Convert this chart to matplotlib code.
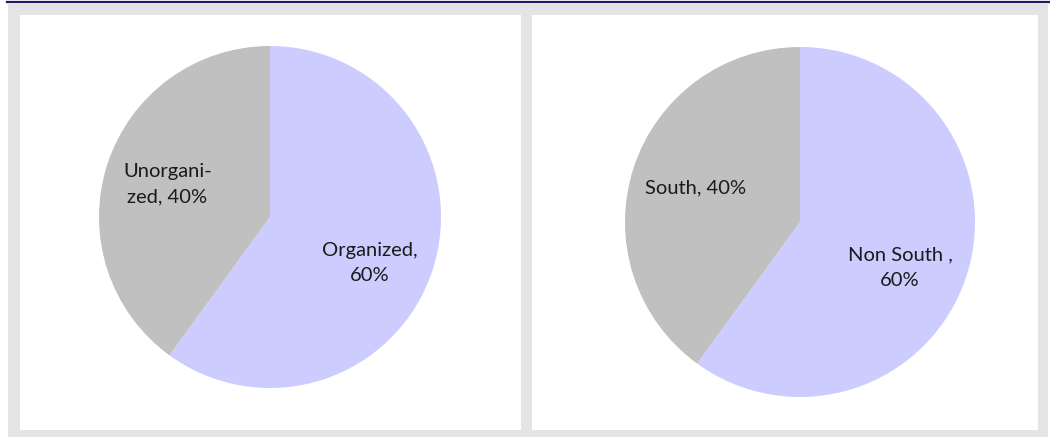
import matplotlib
matplotlib.use("Agg")
import matplotlib.pyplot as plt
from matplotlib.patches import Rectangle
from matplotlib.lines import Line2D

# Data
left_labels = ["Organized", "Unorgani-\nzed"]
left_values = [60, 40]
right_labels = ["Non South ", "South"]
right_values = [60, 40]
colors = ["#ccccff", "#c0c0c0"]

W, H = 1050, 437
fig = plt.figure(figsize=(W / 100, H / 100), dpi=100)
fig.patch.set_facecolor("white")

def fx(px):
    return px / W

def fy(py):
    return 1 - py / H

# gray frame
fig.patches.append(Rectangle((fx(8), 0), fx(1048) - fx(8), fy(4), transform=fig.transFigure,
                             facecolor="#e4e4e4", edgecolor="none", zorder=-10))
# top dark line
fig.lines.append(Line2D([fx(7), 1], [fy(1.5), fy(1.5)], transform=fig.transFigure,
                        color="#1f1b5e", linewidth=1.6, zorder=5))

def panel(x0, x1, y0, y1, labels, values, cx, cy, r, fmt, big_offset):
    ax = fig.add_axes([fx(x0), fy(y1), fx(x1) - fx(x0), fy(y0) - fy(y1)])
    ax.set_zorder(1)
    w = x1 - x0
    h = y1 - y0
    texts = [fmt(l, v) for l, v in zip(labels, values)]
    ccx, ccy = cx, h - cy
    wedges, tx = ax.pie(values, labels=texts, colors=colors, startangle=90, counterclock=False,
                        center=(ccx, ccy), radius=r, labeldistance=0.63, frame=True,
                        wedgeprops=dict(linewidth=0),
                        textprops=dict(fontsize=14.5, family="Lato", color="#1a1a1a",
                                       ha="center", va="center", multialignment="center",
                                       linespacing=1.6))
    # reposition the label of the larger slice (as placed in the original)
    tx[0].set_position((ccx + big_offset[0] * r, ccy + big_offset[1] * r))
    ax.set_aspect("auto")
    ax.set_xlim(0, w)
    ax.set_ylim(0, h)
    ax.set_xticks([])
    ax.set_yticks([])
    for s in ax.spines.values():
        s.set_visible(False)
    ax.set_facecolor("white")
    return ax

panel(20, 521, 15, 430, left_labels, left_values, 250, 202, 171,
      lambda l, v: f"{l}, {v}%" if "\n" in l else f"{l},\n{v}%", (0.585, -0.27))
panel(532, 1038, 15, 430, right_labels, right_values, 268, 207, 175,
      lambda l, v: f"{l},\n{v}%" if v == 60 else f"{l}, {v}%", (0.571, -0.26))

fig.savefig("out.png", dpi=100, facecolor="white")
